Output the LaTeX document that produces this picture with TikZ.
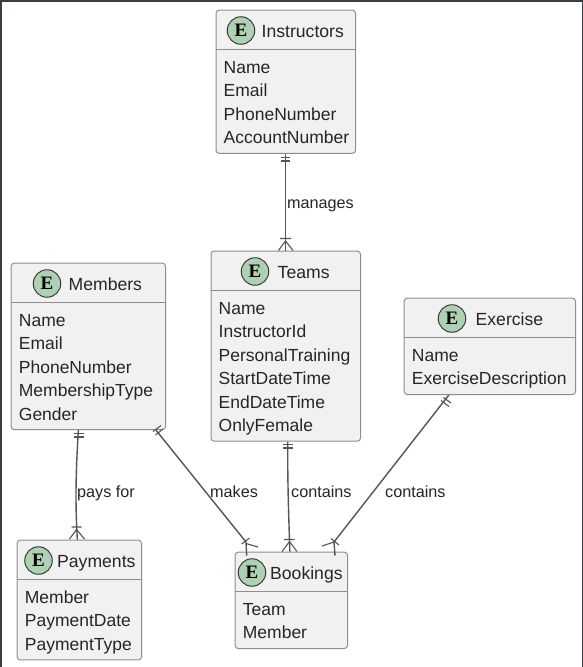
\documentclass[tikz,border=0pt]{standalone}
\usepackage{fontspec}
\setmainfont{Liberation Sans}
\newfontfamily\eserif{Liberation Serif}
\usetikzlibrary{calc}
\definecolor{boxfill}{HTML}{F1F1F1}
\definecolor{boxedge}{HTML}{8E8E8E}
\definecolor{inktext}{HTML}{262626}
\definecolor{linkc}{HTML}{555555}
\definecolor{spotfill}{HTML}{ADD1B2}
\definecolor{spotedge}{HTML}{3A3A3A}
\definecolor{framec}{HTML}{3A3D42}
\tikzset{
  x=1pt,y=-1pt,
  entitybox/.style={draw=boxedge,fill=boxfill,line width=1pt,rounded corners=3pt,inner sep=0pt,anchor=north west},
  headrule/.style={draw=boxedge,line width=1pt},
  spot/.style={circle,draw=spotedge,fill=spotfill,line width=1pt,minimum size=27.5pt,inner sep=0pt,text=black,font=\eserif\bfseries\fontsize{19}{20}\selectfont},
  titletext/.style={anchor=base west,inner sep=0pt,text=inktext,font=\fontsize{17.6}{20}\selectfont},
  rowtext/.style={anchor=base west,inner sep=0pt,text=inktext,font=\fontsize{17.5}{20}\selectfont},
  linktext/.style={anchor=base west,inner sep=0pt,text=inktext,font=\fontsize{16.2}{18}\selectfont},
  link/.style={draw=linkc,line width=1.4pt},
  tick/.style={draw=linkc,line width=1.1pt},
}
% id, x1, y1, x2, number of rows, title, title x, spot x, rows
\newcommand{\entitynode}[9]{%
  \pgfmathsetmacro{\ew}{#4-#2}%
  \pgfmathsetmacro{\eh}{39.5+#5*23.4+10}%
  \node[entitybox,minimum width=\ew pt,minimum height=\eh pt] (#1) at (#2,#3) {};
  \pgfmathsetmacro{\ly}{#3+39.5}%
  \draw[headrule] (#2,\ly) -- (#4,\ly);
  \pgfmathsetmacro{\cy}{#3+20.8}%
  \node[spot] (#1-spot) at (#8,\cy) {E};
  \pgfmathsetmacro{\ty}{#3+27.7}%
  \node[titletext] (#1-title) at (#7,\ty) {#6};
  \pgfmathsetmacro{\rx}{#2+8}%
  \foreach \rowname [count=\ri from 0] in {#9} {
    \pgfmathsetmacro{\ry}{#3+63.8+\ri*23.4}
    \node[rowtext] (#1-row\ri) at (\rx,\ry) {\rowname};
  }
}
\begin{document}
\begin{tikzpicture}
\useasboundingbox (0,0) rectangle (583,667);
\fill[white] (0,0) rectangle (583,667);
\fill[framec] (0,0) rectangle (1.5,667);
\fill[framec] (0,0) rectangle (583,1.5);
\fill[framec] (581.8,0) rectangle (583,667);

\entitynode{instructors}{215.5}{9.7}{355}{4}{Instructors}{261.5}{241}{Name,Email,PhoneNumber,AccountNumber}
\entitynode{teams}{210.5}{250.7}{360}{6}{Teams}{277.5}{255}{Name,InstructorId,PersonalTraining,StartDateTime,EndDateTime,OnlyFemale}
\entitynode{members}{10.7}{262.7}{165}{5}{Members}{68.5}{47}{Name,Email,PhoneNumber,MembershipType,Gender}
\entitynode{exercise}{403.7}{297.7}{575}{2}{Exercise}{475.5}{452}{Name,ExerciseDescription}
\entitynode{payments}{16.7}{539.7}{141}{3}{Payments}{57}{38.5}{Member,PaymentDate,PaymentType}
\entitynode{bookings}{234.7}{551.7}{347}{2}{Bookings}{270}{252}{Team,Member}

% manages
\draw[link] (instructors.south) -- (teams.north);
\draw[tick] (281,157.5) -- (290,157.5) (281,161) -- (290,161);
\draw[tick] (280,238.5) -- (291,238.5) (285.5,241) -- (278.5,250.5) (285.5,241) -- (293,250.5);
\node[linktext] (lmanages) at (287,208.5) {manages};

% pays for
\draw[link] ([xshift=-10pt]members.south) .. controls (76,470) and (75,500) .. ([xshift=-2pt]payments.north);
\draw[tick] (73.5,433.5) -- (83.5,433.5) (73.5,437) -- (83.5,437);
\draw[tick] (71.5,527) -- (81.5,527) (76.5,529.5) -- (69.5,539) (76.5,529.5) -- (84.5,539);
\node[linktext] (lpays) at (77,497.5) {pays for};

% makes
\coordinate (makesapex) at (246,542);
\draw[link] ([xshift=-10pt]members.south east) -- (makesapex) -- ([xshift=12pt,yshift=-4pt]bookings.north west);
\draw[tick] (153,431.5) -- (161,425.5) (155.5,435) -- (163,429);
\draw[tick] (241.5,544) -- (249.5,538) (246,543.5) -- (258,547);
\node[linktext] (lmakes) at (210,497.5) {makes};

% contains (teams)
\draw[link] ([xshift=2pt]teams.south) .. controls (287.5,480) and (288.5,510) .. ([xshift=-1.5pt]bookings.north);
\draw[tick] (283,444.5) -- (293,444.5) (283,448) -- (293,448);
\draw[tick] (284,539.5) -- (294.5,539.5) (289.5,541.5) -- (282,551.5) (289.5,541.5) -- (297,551.5);
\node[linktext] (lcontainsa) at (291,497.5) {contains};

% contains (exercise)
\coordinate (exapex) at (334,542);
\draw[link] ([xshift=-41pt]exercise.south) -- (exapex) -- ([xshift=-13pt,yshift=-4pt]bookings.north east);
\draw[tick] (443.5,397.5) -- (451,403) (441,400.5) -- (449,406.5);
\draw[tick] (331,538.5) -- (339,545) (334,542) -- (322,546);
\node[linktext] (lcontainsb) at (385,497.5) {contains};
\end{tikzpicture}
\end{document}
